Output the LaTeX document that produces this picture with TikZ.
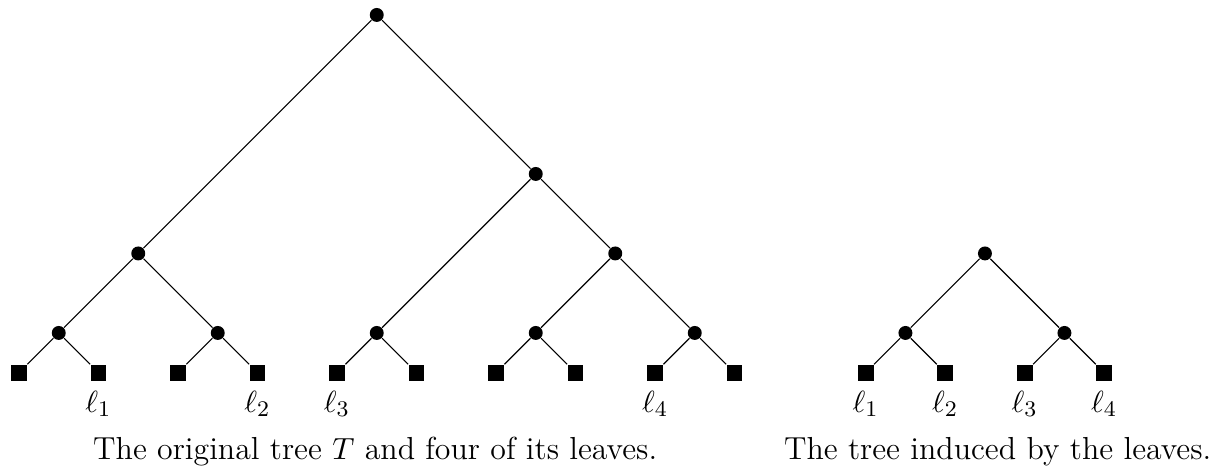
\documentclass[tikz,border=0pt]{standalone}
\usepackage{tikz}

\begin{document}
\begin{tikzpicture}[
  font=\fontsize{11.4}{13.7}\selectfont,
  inner/.style={circle,fill=black,inner sep=0pt,minimum size=5pt},
  leaf/.style={rectangle,fill=black,inner sep=0pt,minimum size=5.6pt},
  edge/.style={black,line width=0.4pt},
]
\useasboundingbox (-0.239,-1.186) rectangle (15.107,4.688);
% original tree T
\node[inner] (root) at (4.5,4.5) {};
\node[inner] (a) at (1.5,1.5) {};
\node[inner] (b) at (6.5,2.5) {};
\node[inner] (c) at (7.5,1.5) {};
\node[inner] (a1) at (0.5,0.5) {};
\node[inner] (a2) at (2.5,0.5) {};
\node[inner] (b1) at (4.5,0.5) {};
\node[inner] (c1) at (6.5,0.5) {};
\node[inner] (c2) at (8.5,0.5) {};
\foreach \i in {0,...,9} \node[leaf] (x\i) at (\i,0) {};
\foreach \u/\v in {root/a,root/b,b/b1,b/c,a/a1,a/a2,c/c1,c/c2,
  a1/x0,a1/x1,a2/x2,a2/x3,b1/x4,b1/x5,c1/x6,c1/x7,c2/x8,c2/x9}
  \draw[edge] (\u) -- (\v);
\foreach \x/\n in {x1/1,x3/2,x4/3,x8/4} \node[below] (lab\n) at (\x.south) {$\ell_\n$};
\node[anchor=base] (capT) at (4.48,-1.09) {The original tree $T$ and four of its leaves.};
% induced tree
\node[inner] (iroot) at (12.15,1.5) {};
\node[inner] (il) at (11.15,0.5) {};
\node[inner] (ir) at (13.15,0.5) {};
\foreach \i/\x in {1/10.65,2/11.65,3/12.65,4/13.65} \node[leaf] (y\i) at (\x,0) {};
\foreach \u/\v in {iroot/il,iroot/ir,il/y1,il/y2,ir/y3,ir/y4}
  \draw[edge] (\u) -- (\v);
\foreach \i in {1,...,4} \node[below] (ilab\i) at (y\i.south) {$\ell_\i$};
\node[anchor=base] (capI) at (12.31,-1.09) {The tree induced by the leaves.};
\end{tikzpicture}
\end{document}
